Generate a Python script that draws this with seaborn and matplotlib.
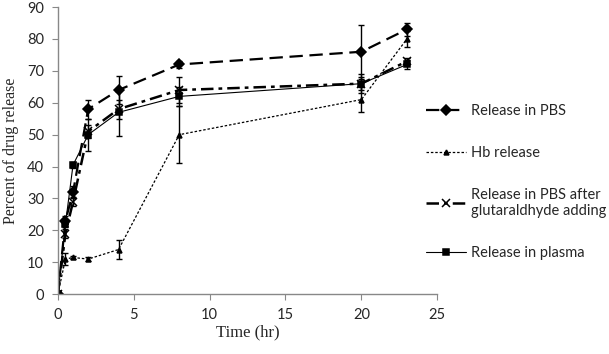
import numpy as np
import pandas as pd
import matplotlib
matplotlib.use("Agg")
import matplotlib.pyplot as plt
import seaborn as sns

# data
time_hr = [0, 0.5, 1, 2, 4, 8, 20, 23]
pbs = [0, 23, 32, 58, 64, 72, 76, 83]
pbs_err = [0, 1.5, 2, 3, 4.5, 1, 8.5, 2]
hb = [0, 11, 11.5, 11, 14, 50, 61, 80]
hb_err = [0, 2, 0.5, 0.5, 3, 9, 4, 2.5]
glut = [0, 19, 29, 51, 58, 64, 66, 73]
glut_err = [0, 1.5, 1.5, 2, 3, 4, 2, 1]
plasma = [0, 22, 40.5, 50, 57, 62, 66, 72]
plasma_err = [0, 1, 1, 5, 7.5, 3, 3, 1.5]

labels = ["Release in PBS", "Hb release",
          "Release in PBS after\nglutaraldhyde adding", "Release in plasma"]

sns.set_style("white")
plt.rcParams['font.family'] = ['Lato', 'DejaVu Sans']

fig = plt.figure(figsize=(6.09, 3.54), dpi=100)
ax = fig.add_axes([0.095, 0.169, 0.623, 0.811])

styles = [
    dict(y=pbs, err=pbs_err, marker='D', ms=5, dashes=(6, 3), lw=1.6),
    dict(y=hb, err=hb_err, marker='^', ms=3.5, dashes=(2, 1.5), lw=0.9),
    dict(y=glut, err=glut_err, marker='x', ms=5.5, dashes=(5, 2, 1.5, 2), lw=1.8),
    dict(y=plasma, err=plasma_err, marker='s', ms=4, dashes=None, lw=0.8),
]

for lab, st in zip(labels, styles):
    d = pd.DataFrame({'t': time_hr, 'v': st['y']})
    kw = dict(color='black', marker=st['marker'], markersize=st['ms'],
              linewidth=st['lw'], markeredgecolor='black', markeredgewidth=1.1)
    sns.lineplot(data=d, x='t', y='v', ax=ax, label=lab, **kw)
    l = ax.lines[-1]
    if st['dashes'] is not None:
        l.set_dashes(st['dashes'])
    ax.errorbar(time_hr, st['y'], yerr=st['err'], fmt='none', ecolor='black',
                elinewidth=1.0, capsize=2.3, capthick=1.0)

ax.set_xlim(0, 25)
ax.set_ylim(0, 90)
ax.set_xticks(range(0, 26, 5))
ax.set_yticks(range(0, 91, 10))
ax.tick_params(axis='both', labelsize=10.5, length=4, color='#888888',
               direction='out', bottom=True, left=True, pad=6)
for s in ['top', 'right']:
    ax.spines[s].set_visible(False)
for s in ['left', 'bottom']:
    ax.spines[s].set_color('#888888')
    ax.spines[s].set_linewidth(1.0)

ax.set_xlabel("Time (hr)", family='Liberation Serif', fontsize=12, labelpad=2)
ax.set_ylabel("Percent of drug release", family='Liberation Serif', fontsize=11.5, labelpad=6)

h, lb = ax.get_legend_handles_labels()
ax.get_legend().remove()
fig.legend(h, lb, loc='upper left', bbox_to_anchor=(0.700, 0.705), frameon=False,
           borderaxespad=0, borderpad=0,
           fontsize=10.5, labelspacing=1.9, handlelength=2.7, handletextpad=0.35)

fig.savefig("out.png", dpi=100)
